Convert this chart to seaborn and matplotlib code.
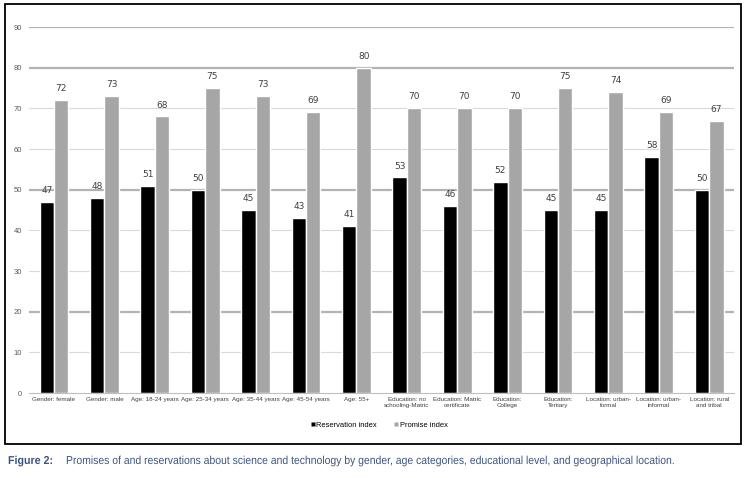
import matplotlib
matplotlib.use("Agg")
import matplotlib.pyplot as plt
import matplotlib.patches as mpatches
from matplotlib.lines import Line2D
from matplotlib.patheffects import AbstractPathEffect
from matplotlib.transforms import Affine2D
import seaborn as sns
import pandas as pd

categories = ["Gender: female", "Gender: male", "Age: 18-24 years", "Age: 25-34 years",
              "Age: 35-44 years", "Age: 45-54 years", "Age: 55+",
              "Education: no\nschooling-Matric", "Education: Matric\ncertificate",
              "Education:\nCollege", "Education:\nTertiary", "Location: urban-\nformal",
              "Location: urban-\ninformal", "Location: rural\nand tribal"]
reservation = [47, 48, 51, 50, 45, 43, 41, 53, 46, 52, 45, 45, 58, 50]
promise = [72, 73, 68, 75, 73, 69, 80, 70, 70, 70, 75, 74, 69, 67]
series_names = ["Reservation index", "Promise index"]
yticks = [0, 10, 20, 30, 40, 50, 60, 70, 80, 90]
caption_label = "Figure 2:"
caption_text = ("Promises of and reservations about science and technology by gender, "
                "age categories, educational level, and geographical location.")

df = pd.DataFrame({
    "category": categories * 2,
    "value": reservation + promise,
    "series": [series_names[0]] * len(categories) + [series_names[1]] * len(categories),
})

sns.set_style("white")
plt.rcParams['font.family'] = ['Liberation Sans', 'DejaVu Sans']

W, H = 749, 478
fig = plt.figure(figsize=(W / 100, H / 100), dpi=100)
ax = fig.add_axes([28.8 / W, 1 - 393 / H, 705.6 / W, 366 / H])

# gridlines
for v in yticks[1:]:
    if v in (20, 50, 80, 90):
        ax.axhline(v, color="#b3b3b3", lw=1.6, zorder=0)
    else:
        ax.axhline(v, color="#d9d9d9", lw=0.8, zorder=0)

sns.barplot(data=df, x="category", y="value", hue="series", ax=ax,
            palette=["#000000", "#a6a6a6"], width=0.575, gap=0, saturation=1,
            legend=False, zorder=2)

ax.set_ylim(0, 90)
ax.set_xlim(-0.5, len(categories) - 0.5)
ax.set_yticks(yticks)
ax.set_yticklabels([str(t) for t in yticks], fontsize=5.5, color="#595959")
ax.set_xticks(range(len(categories)))
ax.set_xticklabels(categories, fontsize=4.5, color="#404040", linespacing=1.15)
ax.tick_params(axis="y", length=0, pad=5)
ax.tick_params(axis="x", length=0, pad=3)
ax.set_xlabel("")
ax.set_ylabel("")
for s in ["top", "right", "left"]:
    ax.spines[s].set_visible(False)
ax.spines["bottom"].set_color("#bfbfbf")
ax.spines["bottom"].set_linewidth(0.8)

for cont in ax.containers:
    ax.bar_label(cont, padding=5, fontsize=6.5, color="#404040", family="DejaVu Sans")

handles = [Line2D([], [], marker="s", color="none", markerfacecolor="#000000",
                  markeredgecolor="none", markersize=3.5),
           Line2D([], [], marker="s", color="none", markerfacecolor="#a6a6a6",
                  markeredgecolor="none", markersize=3.5)]
fig.legend(handles, series_names, loc="center", bbox_to_anchor=(379 / W, 1 - 425 / H),
           ncol=2, frameon=False, fontsize=5.4, handlelength=0.6, handletextpad=0.2,
           columnspacing=2.2, labelcolor="#000000")

# outer border
fig.patches.append(mpatches.Rectangle((5 / W, 1 - 444 / H), 736 / W, 440 / H,
                                      transform=fig.transFigure, fill=False,
                                      edgecolor="#000000", lw=1.3))


class Squash(AbstractPathEffect):
    """Horizontally condense a text about a given display x position."""
    def __init__(self, sx, x0):
        super().__init__()
        self.sx = sx
        self.x0 = x0

    def draw_path(self, renderer, gc, tpath, affine, rgbFace=None):
        t = affine + Affine2D().translate(-self.x0, 0).scale(self.sx, 1).translate(self.x0, 0)
        renderer.draw_path(gc, tpath, t, rgbFace)


cap_color = "#3d5580"
renderer = fig.canvas.get_renderer()
for txt, x0, x1, weight in [(caption_label, 8, 53, "bold"), (caption_text, 66, 675, "normal")]:
    t = fig.text(x0 / W, 1 - 461 / H, txt, fontsize=8.3, fontweight=weight,
                 color=cap_color, va="center", ha="left")
    wpx = t.get_window_extent(renderer).width
    if wpx > (x1 - x0):
        t.set_path_effects([Squash((x1 - x0) / wpx, x0)])

fig.savefig("out.png", dpi=100)
